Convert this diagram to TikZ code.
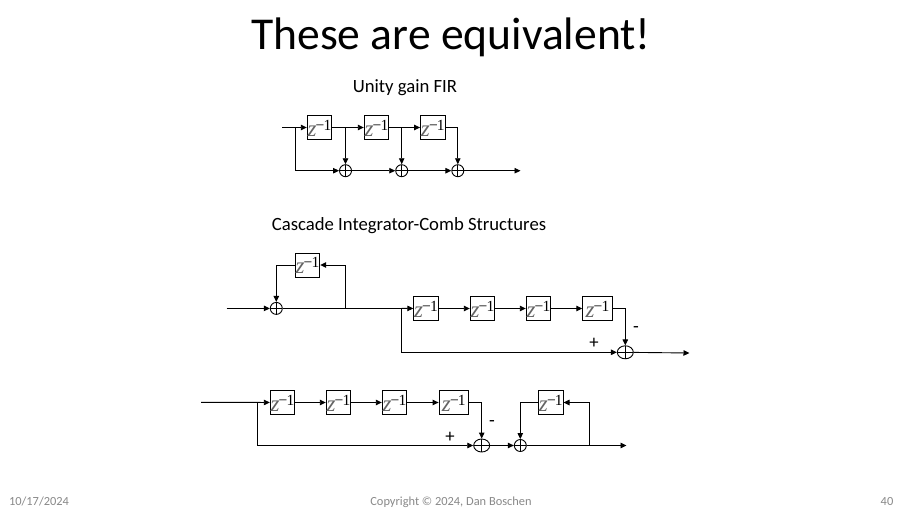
\documentclass[tikz,border=0pt]{standalone}
\usepackage{fontspec}
\setmainfont{Carlito}
\newfontfamily\zfont{Liberation Serif}
\usetikzlibrary{arrows.meta,shapes.geometric}
\definecolor{footgray}{RGB}{137,137,137}
\definecolor{zgray}{RGB}{100,100,100}
\newcommand{\zinv}{{\zfont\fontsize{23}{23}\selectfont\itshape\color{zgray}z}\kern-0.8pt\raisebox{5.6pt}{\zfont\fontsize{15.5}{15.5}\selectfont −\kern-0.8pt 1}}
\tikzset{
  every path/.style={line width=0.9pt},
  wire/.style={draw=black,line width=0.9pt},
  arr/.style={wire,-{Triangle[length=6pt,width=5.5pt]}},
  delay/.style={draw=black,line width=0.9pt,minimum height=24pt,minimum width=24.5pt,inner sep=0pt,text height=17pt,text depth=0pt},
  wide/.style={delay,minimum width=29.5pt},
  summer/.style={ellipse,draw=black,line width=0.9pt,inner sep=0pt,minimum width=12pt,minimum height=12pt,
    path picture={\draw[line width=0.8pt] (path picture bounding box.north)--(path picture bounding box.south)
      (path picture bounding box.west)--(path picture bounding box.east);}},
  bigsummer/.style={summer,minimum width=16pt,minimum height=13pt},
  title/.style={font=\fontsize{45.6}{46}\selectfont,inner sep=0pt},
  head/.style={font=\fontsize{18.7}{19}\selectfont,inner sep=0pt},
  sign/.style={font=\fontsize{18.7}{19}\selectfont,inner sep=0pt,anchor=base},
  foot/.style={font=\fontsize{12.4}{12}\selectfont,text=footgray,inner sep=0pt,anchor=base},
}
\begin{document}
\begin{tikzpicture}[x=1pt,y=-1pt]
\useasboundingbox[fill=white] (0,0) rectangle (902,508);
\node[title] (ttl) at (451,37.5) {These are equivalent!};
\node[head] (h1) at (405,87.5) {Unity gain FIR};
\node[head] (h2) at (409,225.5) {Cascade Integrator-Comb Structures};
\node[foot] (f1) at (39,505) {10/17/2024};
\node[foot] (f2) at (451,505) {Copyright © 2024, Dan Boschen};
\node[foot] (f3) at (887,505) {40};

% Unity gain FIR
\node[delay] (a1) at (319.5,127.5) {\zinv};
\node[delay] (a2) at (376.5,127.5) {\zinv};
\node[delay] (a3) at (432.8,127.5) {\zinv};
\node[summer] (as1) at (345.5,170.7) {};
\node[summer] (as2) at (401.7,170.7) {};
\node[summer] (as3) at (457.8,170.7) {};
\coordinate (ain) at (282.3,127.5);
\coordinate (ab) at (295.7,127.5);
\coordinate (aout) at (520.5,170.7);
\draw[arr] (ain) -- (a1);
\draw[arr] (ab) |- (as1);
\draw[arr] (a1) -- (a2);
\draw[arr] (a2) -- (a3);
\draw[arr] (a1.east) -| (as1);
\draw[arr] (a2.east) -| (as2);
\draw[arr] (a3.east) -| (as3);
\draw[arr] (as1) -- (as2);
\draw[arr] (as2) -- (as3);
\draw[arr] (as3) -- (aout);

% First CIC
\node[delay] (fb1) at (307.5,265) {\zinv};
\node[summer] (s1) at (276.3,308.4) {};
\node[delay] (b1) at (426,308.5) {\zinv};
\node[delay] (b2) at (482.5,308.5) {\zinv};
\node[delay] (b3) at (538.5,308.5) {\zinv};
\node[wide] (b4) at (597.5,308.5) {\zinv};
\node[bigsummer] (s2) at (625.3,352.3) {};
\coordinate (bin) at (226.7,308.4);
\coordinate (bj) at (345.7,308.4);
\coordinate (bb) at (401.7,308.4);
\coordinate (bout) at (689.5,353);
\draw[arr] (bin) -- (s1);
\draw[wire] (s1) -- (bb);
\draw[arr] (bb) -- (b1);
\draw[arr] (bj) |- (fb1);
\draw[arr] (fb1) -| (s1);
\draw[arr] (b1) -- (b2);
\draw[arr] (b2) -- (b3);
\draw[arr] (b3) -- (b4);
\draw[arr] (b4.east) -| (s2);
\draw[arr] (bb) |- (s2);
\draw[arr] (s2) -- (bout);
\node[sign] (bm) at (636,332) {-};
\node[sign] (bp) at (594,348) {+};

% Second CIC
\node[delay] (c1) at (282.5,402.5) {\zinv};
\node[delay] (c2) at (338.5,402.5) {\zinv};
\node[delay] (c3) at (394.5,402.5) {\zinv};
\node[wide] (c4) at (453.8,402.5) {\zinv};
\node[bigsummer] (s3) at (481.7,445.5) {};
\node[summer] (s4) at (520.3,445.5) {};
\node[delay] (fb2) at (550.8,402.5) {\zinv};
\coordinate (cin) at (201,402.3);
\coordinate (cb) at (257.3,402.3);
\coordinate (cj) at (589.5,445.5);
\coordinate (cout) at (626.5,445.5);
\draw[arr] (cin) -- (c1);
\draw[arr] (cb) |- (s3);
\draw[arr] (c1) -- (c2);
\draw[arr] (c2) -- (c3);
\draw[arr] (c3) -- (c4);
\draw[arr] (c4.east) -| (s3);
\draw[arr] (s3) -- (s4);
\draw[arr] (s4) -- (cout);
\draw[arr] (cj) |- (fb2);
\draw[arr] (fb2) -| (s4);
\node[sign] (cm) at (492,426) {-};
\node[sign] (cp) at (450,442.5) {+};
\end{tikzpicture}
\end{document}
